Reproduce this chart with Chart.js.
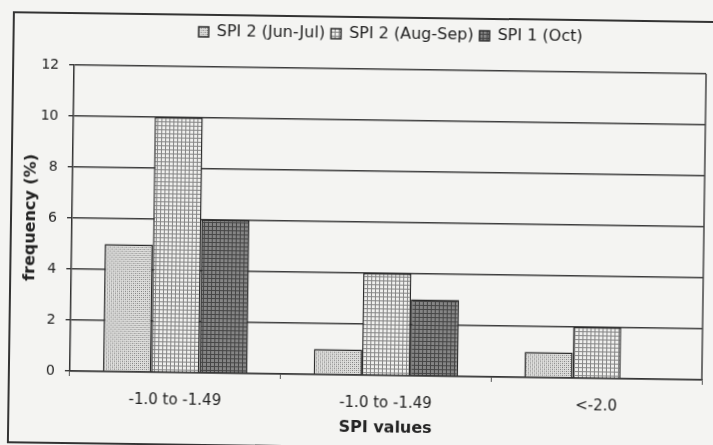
<!DOCTYPE html>
<html>
<head>
<meta charset="utf-8">
<script src="https://cdn.jsdelivr.net/npm/chart.js@4/dist/chart.umd.min.js"></script>
<style>
  html, body { margin: 0; padding: 0; background: #f4f4f2; overflow: hidden; }
  #sheet {
    position: relative; width: 713px; height: 445px;
    transform: rotate(0.8deg); transform-origin: 356px 222px;
  }
  #frame {
    position: absolute; left: 10px; top: 16px; width: 740px; height: 432px;
    border: 2px solid #333; box-sizing: border-box;
  }
  canvas { position: absolute; left: 0; top: 0; }
</style>
</head>
<body>
<div id="sheet">
  <div id="frame"></div>
  <canvas id="chart" width="713" height="445"></canvas>
</div>
<script>
// SPI class ranges on the x axis
const categories = ['-1.0 to -1.49', '-1.0 to -1.49', '<-2.0'];
// frequency (%) per series
const spi2JunJul = [5, 1, 1];
const spi2AugSep = [10, 4, 2];
const spi1Oct = [6, 3, 0];
const seriesNames = ['SPI 2 (Jun-Jul)', 'SPI 2 (Aug-Sep)', 'SPI 1 (Oct)'];
const yTicks = [0, 2, 4, 6, 8, 10, 12];

// small tiled fills that imitate monochrome print hatching
function tile(draw) {
  const c = document.createElement('canvas');
  c.width = 4; c.height = 4;
  const g = c.getContext('2d');
  draw(g);
  return g.createPattern(c, 'repeat');
}
const stipple = tile(g => {
  g.fillStyle = '#dededc'; g.fillRect(0, 0, 4, 4);
  g.fillStyle = '#7a7a7a';
  g.fillRect(0, 0, 1, 1); g.fillRect(2, 2, 1, 1);
  g.fillStyle = '#a4a4a4';
  g.fillRect(2, 0, 1, 1); g.fillRect(0, 2, 1, 1);
});
const lightGrid = tile(g => {
  g.fillStyle = '#efefed'; g.fillRect(0, 0, 4, 4);
  g.fillStyle = '#858585';
  g.fillRect(0, 0, 4, 1); g.fillRect(0, 0, 1, 4);
});
const darkGrid = tile(g => {
  g.fillStyle = '#858585'; g.fillRect(0, 0, 4, 4);
  g.fillStyle = '#454545';
  g.fillRect(0, 0, 4, 1); g.fillRect(0, 0, 1, 4);
});

// closes the plot box on its right side
const plotBox = {
  id: 'plotBox',
  afterDraw(chart) {
    const { ctx, chartArea: a } = chart;
    ctx.save();
    ctx.strokeStyle = '#444';
    ctx.lineWidth = 1.5;
    ctx.beginPath();
    ctx.moveTo(a.right, a.top);
    ctx.lineTo(a.right, a.bottom);
    ctx.stroke();
    ctx.restore();
  }
};

// legend: extra room below it, and centred over the plot area
const legendPlacement = {
  id: 'legendPlacement',
  beforeInit(chart) {
    const fit = chart.legend.fit;
    chart.legend.fit = function () {
      fit.call(this);
      this.height += 17;
    };
  },
  afterLayout(chart) {
    const l = chart.legend, a = chart.chartArea;
    const shift = (a.left + a.right) / 2 - (l.left + l.right) / 2;
    l.left += shift;
    l.right += shift;
  }
};

const font = { family: 'DejaVu Sans', size: 15 };
const titleFont = { family: 'DejaVu Sans', size: 16, weight: 'bold' };
const common = { borderColor: '#2a2a2a', borderWidth: 1.5, categoryPercentage: 0.686, barPercentage: 1 };

new Chart(document.getElementById('chart'), {
  type: 'bar',
  data: {
    labels: categories,
    datasets: [
      { label: seriesNames[0], data: spi2JunJul, backgroundColor: stipple, ...common },
      { label: seriesNames[1], data: spi2AugSep, backgroundColor: lightGrid, ...common },
      { label: seriesNames[2], data: spi1Oct, backgroundColor: darkGrid, ...common }
    ]
  },
  options: {
    responsive: false,
    animation: false,
    devicePixelRatio: 1,
    layout: { padding: { top: 20, left: 21, right: 9, bottom: 8 } },
    plugins: {
      tooltip: { enabled: false },
      legend: {
        position: 'top',
        labels: {
          boxWidth: 10, boxHeight: 10, padding: 6,
          color: '#222', font: { family: 'DejaVu Sans', size: 16 }
        }
      }
    },
    scales: {
      x: {
        afterFit(scale) { scale.height = 62; },
        grid: { offset: true, drawOnChartArea: false, tickLength: 5, color: '#555' },
        border: { color: '#333', width: 1.5 },
        ticks: { color: '#222', font, padding: 14 },
        title: { display: true, text: 'SPI values', color: '#222', font: titleFont, padding: { top: 0, bottom: 0 } }
      },
      y: {
        min: 0, max: 12,
        afterBuildTicks(axis) { axis.ticks = yTicks.map(v => ({ value: v })); },
        afterFit(scale) { scale.width = 51; },
        grid: { color: '#3c3c3c', lineWidth: 1.4, tickLength: 5 },
        border: { color: '#333', width: 1.5 },
        ticks: { color: '#222', font: { family: 'DejaVu Sans', size: 14 }, padding: 10 },
        title: { display: true, text: 'frequency (%)', color: '#222', font: titleFont, padding: { top: 0, bottom: 0 } }
      }
    }
  },
  plugins: [plotBox, legendPlacement]
});
</script>
</body>
</html>
